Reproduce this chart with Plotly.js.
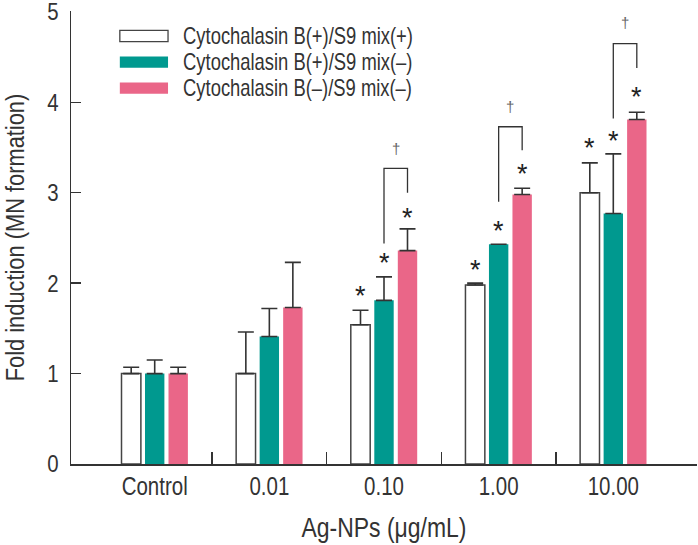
<!DOCTYPE html>
<html>
<head>
<meta charset="utf-8">
<script src="https://cdn.plot.ly/plotly-3.0.1.min.js"></script>
<style>html,body{margin:0;padding:0;background:#fff;}#chart{width:698px;height:545px;}</style>
</head>
<body>
<div id="chart"></div>
<script>
// ---- data ----
var categories = ["Control", "0.01", "0.10", "1.00", "10.00"];
var seriesNames = ["Cytochalasin B(+)/S9 mix(+)", "Cytochalasin B(+)/S9 mix(\u2013)", "Cytochalasin B(\u2013)/S9 mix(\u2013)"];
var whiteVals = [1.00, 1.00, 1.54, 1.98, 3.00];
var whiteErr  = [0.07, 0.46, 0.16, 0.02, 0.33];
var greenVals = [1.00, 1.41, 1.81, 2.43, 2.77];
var greenErr  = [0.15, 0.31, 0.26, NaN, 0.66];
var pinkVals  = [1.00, 1.73, 2.36, 2.98, 3.81];
var pinkErr   = [0.07, 0.50, 0.24, 0.07, 0.08];
var yTicks = [0, 1, 2, 3, 4, 5];
// significance stars: group index, series index (0,1,2), y
var starGroups = [2, 2, 2, 3, 3, 3, 4, 4, 4];
var starSeries = [0, 1, 2, 0, 1, 2, 0, 1, 2];
var starY      = [1.92, 2.29, 2.79, 2.21, 2.64, 3.27, 3.56, 3.64, 4.12];
// brackets between series 1 and 2 (dagger)
var bracketGroups = [2, 3, 4];
var bracketLeftBottom  = [2.44, 2.90, 3.82];
var bracketRightBottom = [3.00, 3.47, 4.38];
var bracketTop         = [3.27, 3.73, 4.65];
var daggerY            = [3.49, 3.95, 4.88];

var FONT = "'Liberation Sans', Arial, sans-serif";
var TXT = '#333333';
var slot = 0.205;

var errStyle = function (arr) {
  return {type: 'data', symmetric: false, array: arr, arrayminus: arr.map(function () { return 0; }),
          color: '#333333', thickness: 1.6, width: 8};
};

var traces = [
  {type: 'bar', name: seriesNames[0], x: categories, y: whiteVals, error_y: errStyle(whiteErr),
   marker: {color: '#ffffff', line: {color: '#444444', width: 1.5}}},
  {type: 'bar', name: seriesNames[1], x: categories, y: greenVals, error_y: errStyle(greenErr),
   marker: {color: '#00998f', line: {width: 0}}},
  {type: 'bar', name: seriesNames[2], x: categories, y: pinkVals, error_y: errStyle(pinkErr),
   marker: {color: '#ea6688', line: {width: 0}}},
  {type: 'scatter', x: [], y: [], xaxis: 'x2', yaxis: 'y', showlegend: false, hoverinfo: 'skip'}
];

var annotations = [];
var shapes = [];
for (var i = 0; i < starGroups.length; i++) {
  annotations.push({x: starGroups[i] + (starSeries[i] - 1) * slot, y: starY[i], xref: 'x', yref: 'y',
    text: '*', showarrow: false, yshift: -6, font: {family: FONT, size: 27, color: '#222222'}});
}
for (var j = 0; j < bracketGroups.length; j++) {
  var x0 = bracketGroups[j], x1 = bracketGroups[j] + slot;
  shapes.push({type: 'path', xref: 'x', yref: 'y',
    path: 'M' + x0 + ',' + bracketLeftBottom[j] + ' L' + x0 + ',' + bracketTop[j] + ' L' + x1 + ',' + bracketTop[j] + ' L' + x1 + ',' + bracketRightBottom[j],
    line: {color: '#333333', width: 1.3}});
  annotations.push({x: (x0 + x1) / 2, y: daggerY[j], xref: 'x', yref: 'y', text: '\u2020', showarrow: false,
    font: {family: FONT, size: 15, color: '#666666'}});
}
// custom legend (swatches + labels)
var legendColors = ['#ffffff', '#00998f', '#ea6688'];
var legendLines = ['#444444', '#00998f', '#ea6688'];
var legendRowY = [0.9447, 0.887, 0.8296];
for (var k = 0; k < 3; k++) {
  shapes.push({type: 'rect', xref: 'paper', yref: 'paper', x0: 0.078, x1: 0.155,
    y0: legendRowY[k] - 0.0125, y1: legendRowY[k] + 0.0125,
    fillcolor: legendColors[k], line: {color: legendLines[k], width: k === 0 ? 1.3 : 0}});
  annotations.push({xref: 'paper', yref: 'paper', x: 0.176, y: legendRowY[k], xanchor: 'left', yanchor: 'middle',
    text: seriesNames[k], showarrow: false, font: {family: FONT, size: 23, color: TXT}});
}

var layout = {
  width: 698, height: 545,
  margin: {l: 71, r: 1, t: 11, b: 81},
  paper_bgcolor: '#ffffff', plot_bgcolor: '#ffffff',
  showlegend: false,
  barmode: 'group', bargap: 0.385, bargroupgap: 0.175,
  font: {family: FONT, color: TXT},
  xaxis: {type: 'category', range: [-0.73, 4.73], showline: true, linecolor: '#333333', linewidth: 1.5,
    ticks: '', showgrid: false, zeroline: false, tickfont: {family: FONT, size: 25, color: TXT},
    title: {text: 'Ag-NPs (\u03bcg/mL)', font: {family: FONT, size: 28, color: TXT}, standoff: 18}},
  xaxis2: {overlaying: 'x', anchor: 'y', range: [-0.73, 4.73], tickvals: [0.5, 1.5, 2.5, 3.5],
    showticklabels: false, ticks: 'inside', ticklen: 12, tickwidth: 1.5, tickcolor: '#333333',
    showline: false, showgrid: false, zeroline: false, side: 'bottom'},
  yaxis: {range: [0, 5.01], tickvals: yTicks, showline: true, linecolor: '#333333', linewidth: 1.5,
    ticks: 'inside', ticklen: 10, tickwidth: 1.5, tickcolor: '#333333', showgrid: false, zeroline: false,
    ticklabelstandoff: 6, ticklabeloverflow: 'allow',
    tickfont: {family: FONT, size: 24, color: TXT},
    title: {text: 'Fold induction (MN formation)', font: {family: FONT, size: 26, color: TXT}, standoff: 14}},
  shapes: shapes,
  annotations: annotations
};

// narrow the text horizontally (the reference uses a condensed face)
function condense(nodes, sx, pivot) {
  nodes.forEach(function (t) {
    var b = t.getBBox();
    var px = pivot === 'left' ? b.x : pivot === 'right' ? b.x + b.width : b.x + b.width / 2;
    var py = b.y + b.height / 2;
    var tr = t.getAttribute('transform') || '';
    t.setAttribute('transform', tr + ' translate(' + px + ',' + py + ') scale(' + sx + ',1) translate(' + (-px) + ',' + (-py) + ')');
  });
}

Plotly.newPlot('chart', traces, layout, {displayModeBar: false, staticPlot: true}).then(function (gd) {
  var q = function (s) { return Array.prototype.slice.call(gd.querySelectorAll(s)); };
  condense(q('.xtick text'), 0.82, 'middle');
  condense(q('.ytick text'), 0.85, 'right');
  condense(q('text.xtitle'), 0.82, 'middle');
  condense(q('text.ytitle'), 0.84, 'middle');
  condense(q('text.annotation-text').filter(function (t) { return t.textContent.indexOf('Cyto') === 0; }), 0.8, 'left');
});
</script>
</body>
</html>
